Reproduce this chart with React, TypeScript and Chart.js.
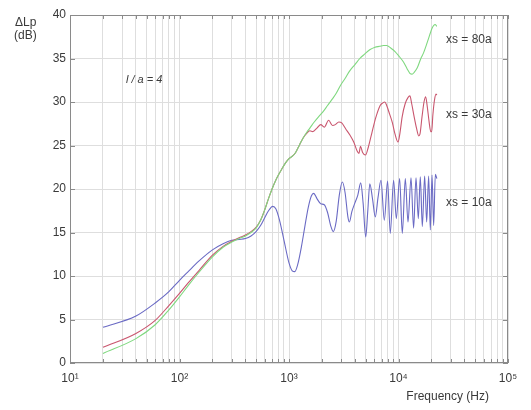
import React, { useEffect, useRef } from 'react';
import { Chart, registerables } from 'chart.js';

Chart.register(...registerables);

// ---- data ----
const freqBlue = [20, 40, 60, 80, 100, 120, 150, 200, 250, 300, 350, 400, 450, 500, 550, 600, 650, 710, 760, 820, 900, 1000, 1070, 1130, 1200, 1300, 1400, 1500, 1600, 1680, 1800, 1950, 2100, 2250, 2400, 2540, 2700, 2880, 3070, 3250, 3450, 3560, 3750, 4000, 4250, 4520, 4750, 5020, 5250, 5470, 5800, 6140, 6500, 6920, 7420, 7950, 8410, 9020, 9550, 10240, 10830, 11540, 12210, 13010, 13740, 14450, 15170, 15820, 16500, 17330, 18080, 18850, 19530, 20240, 20940, 21700, 22400];
const dbBlue = [4.1, 5.4, 6.9, 8.2, 9.5, 10.5, 11.7, 13.0, 13.7, 14.1, 14.2, 14.3, 14.6, 15.1, 15.8, 16.7, 17.5, 18.0, 17.7, 16.4, 14.1, 11.5, 10.6, 10.5, 11.3, 13.4, 15.8, 17.9, 19.2, 19.5, 18.9, 18.3, 18.2, 17.3, 15.8, 15.1, 16.3, 19.3, 20.8, 19.6, 16.8, 16.2, 17.4, 18.4, 19.3, 20.7, 18.4, 14.5, 17.6, 20.6, 18.8, 16.8, 19.0, 21.0, 16.4, 20.9, 14.9, 21.0, 16.6, 21.2, 14.9, 21.2, 16.2, 21.3, 15.5, 21.3, 16.6, 21.4, 15.7, 21.5, 16.2, 21.5, 15.3, 21.6, 15.8, 21.7, 21.2];

const freqRed = [20, 40, 60, 80, 100, 120, 150, 200, 250, 300, 350, 400, 450, 500, 550, 600, 650, 700, 750, 800, 860, 930, 1000, 1080, 1150, 1250, 1350, 1450, 1550, 1650, 1800, 1950, 2100, 2300, 2500, 2650, 2850, 3030, 3300, 3600, 3900, 4180, 4350, 4500, 4700, 5000, 5300, 5700, 6200, 6800, 7200, 7500, 7800, 8300, 8800, 9300, 9900, 10300, 10800, 11500, 12200, 12700, 13200, 13900, 14600, 15300, 15700, 16400, 17100, 17700, 18300, 19000, 19700, 20100, 20600, 21300, 22000, 22400];
const dbRed = [1.8, 3.4, 4.9, 6.6, 8.0, 9.2, 10.6, 12.4, 13.4, 14.0, 14.4, 14.7, 15.1, 15.6, 16.4, 17.6, 18.9, 20.0, 20.9, 21.6, 22.3, 23.0, 23.5, 23.8, 24.2, 25.1, 25.9, 26.4, 26.7, 26.6, 27.0, 27.4, 27.1, 27.9, 27.3, 27.4, 27.7, 27.6, 26.9, 26.2, 25.4, 24.4, 24.1, 24.9, 24.2, 23.9, 24.8, 26.4, 28.2, 29.6, 29.9, 30.0, 29.6, 28.6, 27.6, 26.3, 25.4, 26.4, 28.3, 29.8, 30.5, 30.7, 29.8, 28.3, 27.0, 26.1, 26.3, 28.3, 30.0, 30.6, 29.5, 27.8, 26.6, 26.6, 28.5, 30.2, 30.9, 30.8];

const freqGreen = [20, 40, 60, 80, 100, 120, 150, 200, 250, 300, 350, 400, 450, 500, 550, 600, 650, 700, 750, 800, 860, 930, 1000, 1080, 1150, 1250, 1350, 1450, 1550, 1700, 1860, 2050, 2250, 2470, 2700, 2950, 3250, 3600, 4000, 4430, 4900, 5460, 6100, 6730, 7300, 7800, 8500, 9300, 10200, 11100, 12000, 12700, 13300, 13900, 14800, 16000, 17000, 17800, 18700, 19500, 20300, 21000, 21600, 22400];
const dbGreen = [1.1, 2.8, 4.4, 6.1, 7.6, 8.9, 10.4, 12.2, 13.3, 13.9, 14.3, 14.6, 15.0, 15.5, 16.4, 17.6, 18.9, 20.0, 20.9, 21.6, 22.3, 23.0, 23.5, 23.8, 24.2, 25.1, 25.9, 26.5, 27.0, 27.7, 28.3, 28.9, 29.6, 30.3, 31.0, 31.9, 32.7, 33.6, 34.3, 35.0, 35.5, 36.0, 36.3, 36.4, 36.5, 36.5, 36.2, 35.8, 35.2, 34.6, 33.8, 33.3, 33.2, 33.4, 33.9, 35.0, 35.7, 36.4, 37.2, 37.9, 38.5, 38.8, 38.9, 38.7];

const seriesLabels = ['xs = 10a', 'xs = 30a', 'xs = 80a'];
const seriesLabelDb = [18.4, 28.5, 37.2];
const seriesColors = ['#6a6ac4', '#c9566e', '#7fd87f'];

const xTickValues = [10, 100, 1000, 10000, 100000];
const xTickLabels = ['10¹', '10²', '10³', '10⁴', '10⁵'];
const yTickValues = [0, 5, 10, 15, 20, 25, 30, 35, 40];
const minorMultipliers = [1, 2, 3, 4, 5, 6, 7, 8, 9];

const xAxisTitle = 'Frequency (Hz)';
const yAxisTitle = ['ΔLp', '(dB)'];
const ratioNote = 'l / a = 4';

const FONT = "'Liberation Sans', Arial, sans-serif";
const TEXT = '#3a3a3a';
const FRAME = '#8a8a8a';

const xGridValues: number[] = [];
for (let d = 0; d < xTickValues.length - 1; d++) {
  for (const m of minorMultipliers) xGridValues.push(xTickValues[d] * m);
}
xGridValues.push(xTickValues[xTickValues.length - 1]);

const toPoints = (fs: number[], ys: number[]) => fs.map((f, i) => ({ x: f, y: ys[i] }));

const decorPlugin = {
  id: 'decor',
  afterDraw(chart: any) {
    const { ctx, chartArea: a, scales } = chart;
    const xs = scales.x;
    const ys = scales.y;
    ctx.save();
    // frame
    ctx.strokeStyle = FRAME;
    ctx.lineWidth = 1;
    ctx.strokeRect(a.left + 0.5, a.top + 0.5, a.right - a.left - 1, a.bottom - a.top - 1);
    // inward ticks
    ctx.beginPath();
    for (const v of xGridValues) {
      const px = Math.round(xs.getPixelForValue(v)) + 0.5;
      ctx.moveTo(px, a.bottom);
      ctx.lineTo(px, a.bottom - 4);
      ctx.moveTo(px, a.top);
      ctx.lineTo(px, a.top + 4);
    }
    for (const v of yTickValues) {
      const py = Math.round(ys.getPixelForValue(v)) + 0.5;
      ctx.moveTo(a.left, py);
      ctx.lineTo(a.left + 5, py);
      ctx.moveTo(a.right, py);
      ctx.lineTo(a.right - 5, py);
    }
    ctx.stroke();

    ctx.fillStyle = TEXT;
    ctx.font = `12px ${FONT}`;
    ctx.textBaseline = 'middle';
    // y axis title
    ctx.textAlign = 'left';
    ctx.fillText(yAxisTitle[0], 15, 23);
    ctx.fillText(yAxisTitle[1], 14, 36);
    // x axis title
    ctx.textAlign = 'right';
    ctx.fillText(xAxisTitle, 489, 397);
    // series labels
    ctx.textAlign = 'left';
    seriesLabels.forEach((t, i) => {
      ctx.fillText(t, a.left + 376, ys.getPixelForValue(seriesLabelDb[i]));
    });
    // ratio note
    ctx.font = `italic 11px ${FONT}`;
    ctx.fillText(ratioNote, 126, 80);
    ctx.restore();
  },
};

export default function App() {
  const ref = useRef<HTMLCanvasElement>(null);
  useEffect(() => {
    document.body.style.margin = '0';
    const canvas = ref.current!;
    const chart = new Chart(canvas, {
      type: 'line',
      data: {
        datasets: [
          { label: seriesLabels[2], data: toPoints(freqGreen, dbGreen), borderColor: seriesColors[2] },
          { label: seriesLabels[1], data: toPoints(freqRed, dbRed), borderColor: seriesColors[1] },
          { label: seriesLabels[0], data: toPoints(freqBlue, dbBlue), borderColor: seriesColors[0] },
        ].map((d) => ({
          ...d,
          borderWidth: 1.1,
          pointRadius: 0,
          fill: false,
          cubicInterpolationMode: 'monotone' as const,
        })),
      },
      options: {
        responsive: false,
        animation: false,
        devicePixelRatio: 1,
        layout: { padding: { left: 8, right: 23, top: 15, bottom: 0 } },
        plugins: { legend: { display: false }, tooltip: { enabled: false } },
        scales: {
          x: {
            type: 'logarithmic',
            min: 10,
            max: 100000,
            afterBuildTicks: (s: any) => {
              s.ticks = xGridValues.map((v) => ({ value: v }));
            },
            afterFit: (s: any) => {
              s.height = 47;
            },
            grid: { color: '#dedede', lineWidth: 1, drawTicks: false },
            border: { display: false },
            ticks: {
              autoSkip: false,
              maxRotation: 0,
              padding: 8,
              color: TEXT,
              font: { family: FONT, size: 12 },
              callback: (v: any) => {
                const i = xTickValues.indexOf(Number(v));
                return i >= 0 ? xTickLabels[i] : '';
              },
            },
          },
          y: {
            type: 'linear',
            min: 0,
            max: 40,
            afterBuildTicks: (s: any) => {
              s.ticks = yTickValues.map((v) => ({ value: v }));
            },
            afterFit: (s: any) => {
              s.width = 62;
            },
            grid: { color: '#dedede', lineWidth: 1, drawTicks: false },
            border: { display: false },
            ticks: {
              padding: 4,
              color: TEXT,
              font: { family: FONT, size: 12 },
            },
          },
        },
      },
      plugins: [decorPlugin],
    });
    return () => chart.destroy();
  }, []);
  return (
    <div style={{ position: 'absolute', left: 0, top: 0, width: 531, height: 410, background: '#fff' }}>
      <canvas ref={ref} width={531} height={410} />
    </div>
  );
}
